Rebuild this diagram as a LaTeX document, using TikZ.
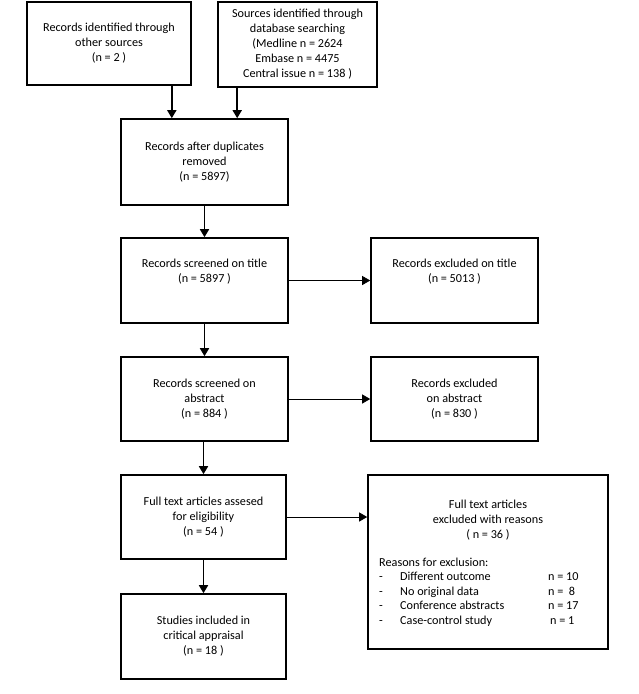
\documentclass[tikz,border=0pt]{standalone}
\usepackage{fontspec}
\setmainfont{Carlito}
\usepackage{tikz}
\usetikzlibrary{shapes,arrows.meta,positioning,calc}

\tikzset{
  txt/.style={align=center,inner sep=2pt,font=\fontsize{12.2}{15}\selectfont},
  box/.style={txt,draw,line width=1.6pt,minimum width=167pt,minimum height=85pt},
  vflow/.style={line width=1.6pt,-{Triangle[length=8pt,width=9pt]}},
  hflow/.style={line width=0.8pt,-{Triangle[length=8pt,width=9pt]}},
}

\begin{document}
\begin{tikzpicture}[x=1pt,y=-1pt]
  \useasboundingbox (0,0) rectangle (638,694);
  % identification
  \node[box,minimum width=164pt,minimum height=83pt] (other) at (109,43.5) {Records identified through\\other sources\\(n = 2 )};
  \node[box,minimum width=159pt] (db) at (297.5,44.5) {Sources identified through\\database searching\\ (Medline n = 2624\\Embase n = 4475\\Central issue n = 138 )};
  % screening
  \node[box,minimum height=86pt] (dup) at (204.5,162) {Records after duplicates\\removed\\(n = 5897)};
  \node[box] (title) at (204.5,280.5) {Records screened on title\\(n = 5897 )\\\strut};
  \node[box] (extitle) at (454.5,280.5) {Records excluded on title\\(n = 5013 )\\\strut};
  \node[box,minimum height=84pt] (abstr) at (204.5,399) {Records screened on\\abstract\\(n = 884 )};
  \node[box,minimum height=84pt] (exabs) at (454.5,399) {Records excluded\\on abstract\\(n = 830 )};
  % eligibility
  \node[box,minimum width=165pt,minimum height=84pt] (full) at (203.5,517) {Full text articles assesed\\for eligibility\\(n = 54 )};
  \node[box,minimum width=240pt,minimum height=174pt] (exfull) at (488,562) {};
  \node[txt] (exhead) at (488,520) {Full text articles\\excluded with reasons\\( n = 36 )};
  \node[txt,inner sep=0pt,anchor=base west,align=left] (reasons) at (379,566) {%
    \renewcommand{\arraystretch}{0.97}%
    \begin{tabular}[t]{@{}p{21pt}@{}p{148pt}@{}l@{}}
      \multicolumn{3}{@{}l@{}}{Reasons for exclusion:}\\
      - & Different outcome & n = 10\\
      - & No original data & n = \ 8\\
      - & Conference abstracts & n = 17\\
      - & Case-control study & \,n = 1
    \end{tabular}};
  % included
  \node[box,minimum width=165pt] (incl) at (203.5,636.5) {Studies included in\\critical appraisal\\(n = 18 )};

  % arrows
  \draw[vflow] ($(other.south east)+(-20,0)$) coordinate (o1) -- (o1 |- dup.north);
  \draw[vflow] ($(db.south west)+(20,0)$) coordinate (d1) -- (d1 |- dup.north);
  \draw[vflow] (dup) -- (title);
  \draw[vflow] (title) -- (abstr);
  \draw[vflow] (full.north |- abstr.south) -- (full.north);
  \draw[vflow] (full) -- (incl);
  \draw[hflow] (title) -- (extitle);
  \draw[hflow] (abstr) -- (exabs);
  \draw[hflow] (full.east) -- (exfull.west |- full.east);
\end{tikzpicture}
\end{document}
